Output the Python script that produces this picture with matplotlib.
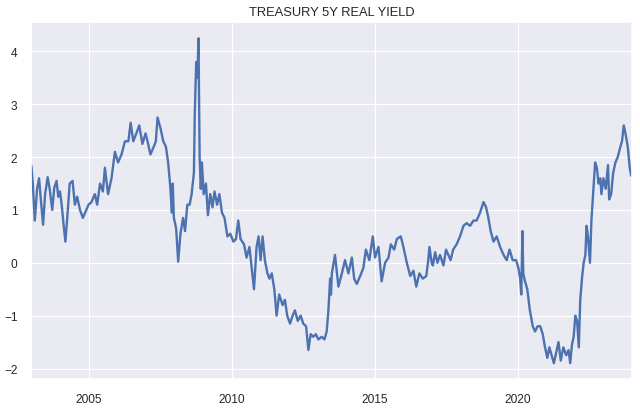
import pandas as pd
import matplotlib
matplotlib.use("Agg")
import matplotlib.pyplot as plt
import matplotlib.dates as mdates
import seaborn as sns

# values (decimal year, 5y real yield in %)
t_year = [
    2003.00, 2003.05, 2003.12, 2003.20, 2003.27, 2003.33, 2003.41, 2003.48, 2003.57, 2003.64,
    2003.73, 2003.80, 2003.88, 2003.94, 2004.00, 2004.06, 2004.13, 2004.19, 2004.26, 2004.34,
    2004.44, 2004.52, 2004.60, 2004.70, 2004.80, 2004.88, 2005.00, 2005.10, 2005.22, 2005.30,
    2005.40, 2005.50, 2005.57, 2005.68, 2005.80, 2005.92, 2006.03, 2006.15, 2006.27, 2006.39,
    2006.47, 2006.56, 2006.67, 2006.77, 2006.88, 2006.99, 2007.08, 2007.16, 2007.28, 2007.35,
    2007.41, 2007.51, 2007.61, 2007.70, 2007.78, 2007.86, 2007.91, 2007.94, 2007.98, 2008.06,
    2008.13, 2008.21, 2008.30, 2008.37, 2008.45, 2008.53, 2008.60, 2008.68, 2008.71, 2008.76,
    2008.80, 2008.84, 2008.88, 2008.92, 2008.96, 2009.02, 2009.10, 2009.17, 2009.25, 2009.33,
    2009.40, 2009.49, 2009.57, 2009.66, 2009.75, 2009.85, 2009.95, 2010.06, 2010.15, 2010.23,
    2010.31, 2010.43, 2010.52, 2010.62, 2010.70, 2010.78, 2010.87, 2010.94, 2011.01, 2011.08,
    2011.16, 2011.25, 2011.32, 2011.40, 2011.49, 2011.57, 2011.66, 2011.78, 2011.86, 2011.94,
    2012.04, 2012.13, 2012.21, 2012.31, 2012.41, 2012.50, 2012.60, 2012.68, 2012.76, 2012.85,
    2012.94, 2013.03, 2013.15, 2013.24, 2013.32, 2013.38, 2013.44, 2013.47, 2013.50, 2013.61,
    2013.73, 2013.85, 2013.96, 2014.08, 2014.20, 2014.28, 2014.37, 2014.49, 2014.60, 2014.69,
    2014.81, 2014.93, 2015.01, 2015.13, 2015.24, 2015.36, 2015.48, 2015.56, 2015.68, 2015.77,
    2015.91, 2016.00, 2016.12, 2016.24, 2016.35, 2016.45, 2016.56, 2016.68, 2016.80, 2016.87,
    2016.91, 2016.99, 2017.03, 2017.11, 2017.19, 2017.28, 2017.40, 2017.49, 2017.57, 2017.65,
    2017.74, 2017.86, 2017.98, 2018.10, 2018.21, 2018.33, 2018.45, 2018.56, 2018.68, 2018.80,
    2018.89, 2018.97, 2019.05, 2019.15, 2019.26, 2019.38, 2019.50, 2019.61, 2019.71, 2019.82,
    2019.94, 2020.02, 2020.08, 2020.12, 2020.16, 2020.19, 2020.25, 2020.33, 2020.42, 2020.52,
    2020.60, 2020.69, 2020.78, 2020.87, 2020.95, 2021.03, 2021.10, 2021.18, 2021.26, 2021.36,
    2021.42, 2021.50, 2021.59, 2021.69, 2021.77, 2021.83, 2021.89, 2021.95, 2022.01, 2022.07,
    2022.13, 2022.18, 2022.24, 2022.30, 2022.36, 2022.40, 2022.45, 2022.52, 2022.57, 2022.64,
    2022.70, 2022.76, 2022.82, 2022.88, 2022.92, 2022.99, 2023.07, 2023.15, 2023.19, 2023.26,
    2023.33, 2023.41, 2023.49, 2023.56, 2023.64, 2023.70, 2023.76, 2023.84, 2023.91, 2023.96,
    2024.00,
]
yield_5y = [
    1.84, 1.50, 0.80, 1.40, 1.60, 1.20, 0.72, 1.30, 1.62, 1.40,
    1.00, 1.42, 1.55, 1.25, 1.35, 1.10, 0.70, 0.40, 0.90, 1.50,
    1.55, 1.10, 1.25, 1.00, 0.85, 0.95, 1.10, 1.15, 1.30, 1.10,
    1.50, 1.35, 1.80, 1.30, 1.60, 2.10, 1.90, 2.05, 2.30, 2.30,
    2.65, 2.30, 2.45, 2.60, 2.25, 2.45, 2.25, 2.05, 2.20, 2.30,
    2.75, 2.55, 2.30, 2.20, 1.90, 1.40, 0.95, 1.50, 0.85, 0.65,
    0.02, 0.55, 0.85, 0.60, 1.10, 1.10, 1.30, 1.70, 2.80, 3.80,
    3.50, 4.25, 2.00, 1.40, 1.90, 1.30, 1.50, 0.90, 1.30, 1.05,
    1.35, 1.10, 1.30, 0.95, 0.85, 0.50, 0.55, 0.40, 0.45, 0.80,
    0.45, 0.35, 0.10, 0.30, -0.10, -0.50, 0.30, 0.50, 0.05, 0.50,
    0.05, -0.20, -0.30, -0.20, -0.50, -1.00, -0.60, -0.80, -0.70, -1.00,
    -1.15, -1.00, -0.90, -1.10, -1.00, -1.15, -1.20, -1.65, -1.35, -1.40,
    -1.35, -1.45, -1.40, -1.45, -1.30, -0.90, -0.30, -0.60, -0.20, 0.15,
    -0.45, -0.20, 0.05, -0.20, 0.10, -0.30, -0.40, -0.25, -0.10, 0.25,
    0.05, 0.50, 0.10, 0.30, -0.35, 0.00, 0.10, 0.35, 0.25, 0.45,
    0.50, 0.30, 0.00, -0.25, -0.15, -0.45, -0.20, -0.30, -0.25, 0.05,
    0.30, 0.00, -0.05, 0.20, 0.00, 0.15, -0.05, 0.25, 0.15, 0.05,
    0.25, 0.35, 0.50, 0.70, 0.75, 0.70, 0.80, 0.80, 0.95, 1.15,
    1.05, 0.85, 0.60, 0.40, 0.50, 0.30, 0.15, 0.05, 0.25, 0.05,
    0.05, -0.10, -0.30, -0.60, 0.60, -0.20, -0.35, -0.50, -0.90, -1.20,
    -1.30, -1.20, -1.20, -1.35, -1.60, -1.80, -1.60, -1.75, -1.90, -1.65,
    -1.50, -1.85, -1.60, -1.75, -1.65, -1.90, -1.55, -1.40, -1.00, -1.10,
    -1.60, -0.70, -0.30, 0.00, 0.15, 0.70, 0.50, 0.00, 0.80, 1.40,
    1.90, 1.80, 1.50, 1.60, 1.30, 1.60, 1.40, 1.85, 1.20, 1.30,
    1.70, 1.90, 2.00, 2.15, 2.30, 2.60, 2.45, 2.20, 1.80, 1.65,
    1.75,
]

sns.set_theme(style="darkgrid")
plt.rcParams['font.family'] = ['Liberation Sans', 'DejaVu Sans']

# decimal years -> dates
start = pd.Timestamp("2003-01-01")
dates = [start + pd.Timedelta(days=(y - 2003) * 365.25) for y in t_year]
s = pd.Series(yield_5y, index=dates)

fig, ax = plt.subplots(figsize=(6.4, 4.1), dpi=100)
fig.subplots_adjust(left=0.049, right=0.988, bottom=0.073, top=0.943)

ax.plot(s.index, s.values, color="#4c72b0", linewidth=1.7)
ax.set_title("TREASURY 5Y REAL YIELD", fontsize=9.3, color="#262626", pad=5)
ax.set_xlim(s.index[0], s.index[-1])
ax.set_ylim(-2.2, 4.55)
ax.xaxis.set_major_locator(mdates.YearLocator(5))
ax.xaxis.set_major_formatter(mdates.DateFormatter("%Y"))
ax.tick_params(labelsize=8.6, pad=4)
for line in ax.get_xgridlines() + ax.get_ygridlines():
    line.set_linewidth(0.8)

plt.savefig("out.png", dpi=100)
